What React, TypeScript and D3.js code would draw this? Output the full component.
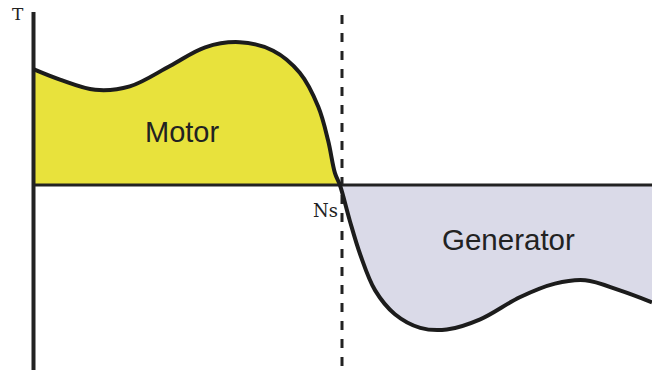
import React from "react";
import * as d3 from "d3";

const speed = [0, 4.2, 9.9, 15.5, 22.0, 27.7, 33.3, 38.7, 43.0, 46.0, 47.6, 48.7, 49.5, 51.1, 52.8, 55.2, 58.4, 62.5, 66.8, 72.2, 78.6, 84.3, 89.2, 94.8, 100];
const torque = [68, 62, 56, 58, 70, 81, 84, 79, 66, 46, 26, 7, 0, -21, -41, -62, -76, -84, -85, -79, -66, -58, -56, -62, -69];
const syncSpeed = 50;
const labels = { torque: "T", sync: "Ns", motor: "Motor", generator: "Generator" };

const W = 652;
const H = 375;

export default function App() {
  const x = d3.scaleLinear().domain([0, 100]).range([34, 652]);
  const y = d3.scaleLinear().domain([-100, 100]).range([355, 15]);
  const pts: [number, number][] = speed.map((s, i) => [s, torque[i]]);
  const curve = d3.curveCatmullRom.alpha(0.5);
  const line = d3.line<[number, number]>().x(d => x(d[0])).y(d => y(d[1])).curve(curve);
  const area = d3.area<[number, number]>().x(d => x(d[0])).y0(y(0)).y1(d => y(d[1])).curve(curve);
  const y0 = y(0);
  return (
    <svg width={W} height={H} style={{ position: "absolute", left: 0, top: 0, background: "#fff" }}>
      <defs>
        <clipPath id="above"><rect x={0} y={0} width={W} height={y0} /></clipPath>
        <clipPath id="below"><rect x={0} y={y0} width={W} height={H - y0} /></clipPath>
      </defs>
      <path d={area(pts) || ""} fill="#e8e23c" clipPath="url(#above)" />
      <path d={area(pts) || ""} fill="#dadae8" clipPath="url(#below)" />
      <line x1={x(0)} x2={W} y1={y0} y2={y0} stroke="#222" strokeWidth={3} />
      <line x1={33.5} x2={33.5} y1={12} y2={370} stroke="#222" strokeWidth={4} />
      <line x1={x(syncSpeed) - 1} x2={x(syncSpeed) - 1} y1={15} y2={375} stroke="#222" strokeWidth={3} strokeDasharray="9 9" />
      <path d={line(pts) || ""} fill="none" stroke="#1c1c1c" strokeWidth={4} strokeLinejoin="round" />
      <text x={12} y={20} fontFamily="DejaVu Serif" fontSize={17} fill="#222">{labels.torque}</text>
      <text x={313} y={217} fontFamily="DejaVu Serif" fontSize={18} fill="#222">{labels.sync}</text>
      <text x={145} y={142} fontFamily="Liberation Sans" fontSize={29} fill="#222">{labels.motor}</text>
      <text x={442} y={250} fontFamily="Liberation Sans" fontSize={29.5} fill="#222">{labels.generator}</text>
    </svg>
  );
}
